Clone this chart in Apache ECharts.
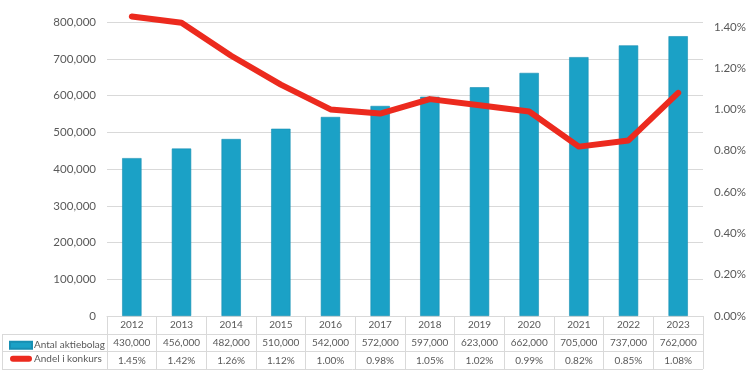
<!DOCTYPE html>
<html>
  <head>
    <meta charset="utf-8" />
    <title>Aktiebolag och konkurser</title>
    <script src="https://cdn.jsdelivr.net/npm/echarts@6/dist/echarts.min.js"></script>
    <style>
      body { margin: 0; background: #fff; }
    </style>
  </head>
  <body>
    <div id="main" style="width: 746px;height:375px;"></div>
    <script type="text/javascript">
      // data
      var years = ['2012', '2013', '2014', '2015', '2016', '2017', '2018', '2019', '2020', '2021', '2022', '2023'];
      var antal = [430000, 456000, 482000, 510000, 542000, 572000, 597000, 623000, 662000, 705000, 737000, 762000];
      var andel = [1.45, 1.42, 1.26, 1.12, 1.00, 0.98, 1.05, 1.02, 0.99, 0.82, 0.85, 1.08];

      var barName = 'Antal aktiebolag';
      var lineName = 'Andel i konkurs';

      var font = 'Lato, "Open Sans", sans-serif';
      var gray = '#595959';
      var rule = '#d9d9d9';
      var red = '#ec2a1e';

      // plot area (top is above the visible frame, like the cropped original) + table below
      var gridLeft = 107, gridRight = 43, gridTop = -14.5, gridBottom = 59;
      var W = 746, H = 375;
      var axisY = H - gridBottom;   // 316
      var rowH = 17.7;

      function fmtNum(v) {
        return String(v).replace(/\B(?=(\d{3})+(?!\d))/g, ',');
      }

      var myChart = echarts.init(document.getElementById('main'));

      function ruleLine(x1, y1, x2, y2) {
        return {
          type: 'line',
          shape: { x1: x1, y1: y1, x2: x2, y2: y2 },
          style: { stroke: rule, lineWidth: 1 },
          silent: true
        };
      }
      var tableLines = [];
      for (var r = 1; r <= 3; r++) {
        var y = Math.round(axisY + r * rowH) + 0.5;
        tableLines.push(ruleLine(2, y, W - gridRight, y));
      }
      tableLines.push(ruleLine(2.5, Math.round(axisY + rowH) + 0.5, 2.5, Math.round(axisY + 3 * rowH) + 0.5));

      var option = {
        animation: false,
        textStyle: { fontFamily: font },
        grid: {
          left: gridLeft, right: gridRight, top: gridTop, bottom: gridBottom,
          outerBoundsMode: 'none', containLabel: false
        },
        legend: {
          orient: 'vertical',
          left: 4,
          top: axisY + rowH + 1.5,
          itemGap: 3.5,
          itemWidth: 22,
          itemHeight: 7,
          textStyle: { fontSize: 10, color: gray, fontFamily: font, padding: [0, 0, 0, -3] },
          data: [
            { name: barName, icon: 'rect' },
            { name: lineName, icon: 'path://M3,0 H19 A3,3 0 0 1 19,6 H3 A3,3 0 0 1 3,0 Z', itemStyle: { color: red } }
          ]
        },
        graphic: tableLines,
        xAxis: [
          {
            type: 'category',
            data: years,
            axisLine: { show: true, lineStyle: { color: rule } },
            axisTick: { show: true, length: Math.round(3 * rowH), lineStyle: { color: rule } },
            axisLabel: { fontSize: 10, color: gray, margin: 4, fontFamily: font },
            splitLine: { show: false }
          },
          {
            type: 'category',
            data: years,
            position: 'bottom',
            offset: rowH,
            axisLine: { show: false },
            axisTick: { show: false },
            axisLabel: {
              fontSize: 10, color: gray, margin: 4, fontFamily: font,
              formatter: function (v, i) { return fmtNum(antal[i]); }
            }
          },
          {
            type: 'category',
            data: years,
            position: 'bottom',
            offset: 2 * rowH,
            axisLine: { show: false },
            axisTick: { show: false },
            axisLabel: {
              fontSize: 10, color: gray, margin: 4, fontFamily: font,
              formatter: function (v, i) { return andel[i].toFixed(2) + '%'; }
            }
          }
        ],
        yAxis: [
          {
            type: 'value',
            min: 0,
            max: 900000,
            interval: 100000,
            axisLine: { show: false },
            axisTick: { show: false },
            axisLabel: {
              fontSize: 11.5, color: gray, margin: 11, fontFamily: font,
              formatter: function (v) { return fmtNum(v); }
            },
            splitLine: { lineStyle: { color: rule } }
          },
          {
            type: 'value',
            min: 0,
            max: 1.6,
            interval: 0.2,
            axisLine: { show: false },
            axisTick: { show: false },
            axisLabel: {
              fontSize: 11.5, color: gray, margin: 11, fontFamily: font,
              formatter: function (v) { return v.toFixed(2) + '%'; }
            },
            splitLine: { show: false }
          }
        ],
        series: [
          {
            name: barName,
            type: 'bar',
            xAxisIndex: 0,
            yAxisIndex: 0,
            data: antal,
            barWidth: '39%',
            itemStyle: { color: '#1ba1c6', borderColor: '#178fb3', borderWidth: 0.6 }
          },
          {
            name: lineName,
            type: 'line',
            xAxisIndex: 0,
            yAxisIndex: 1,
            data: andel,
            symbol: 'none',
            z: 5,
            lineStyle: { color: red, width: 6, cap: 'round', join: 'round' },
            itemStyle: { color: red }
          }
        ]
      };

      myChart.setOption(option);
    </script>
  </body>
</html>
